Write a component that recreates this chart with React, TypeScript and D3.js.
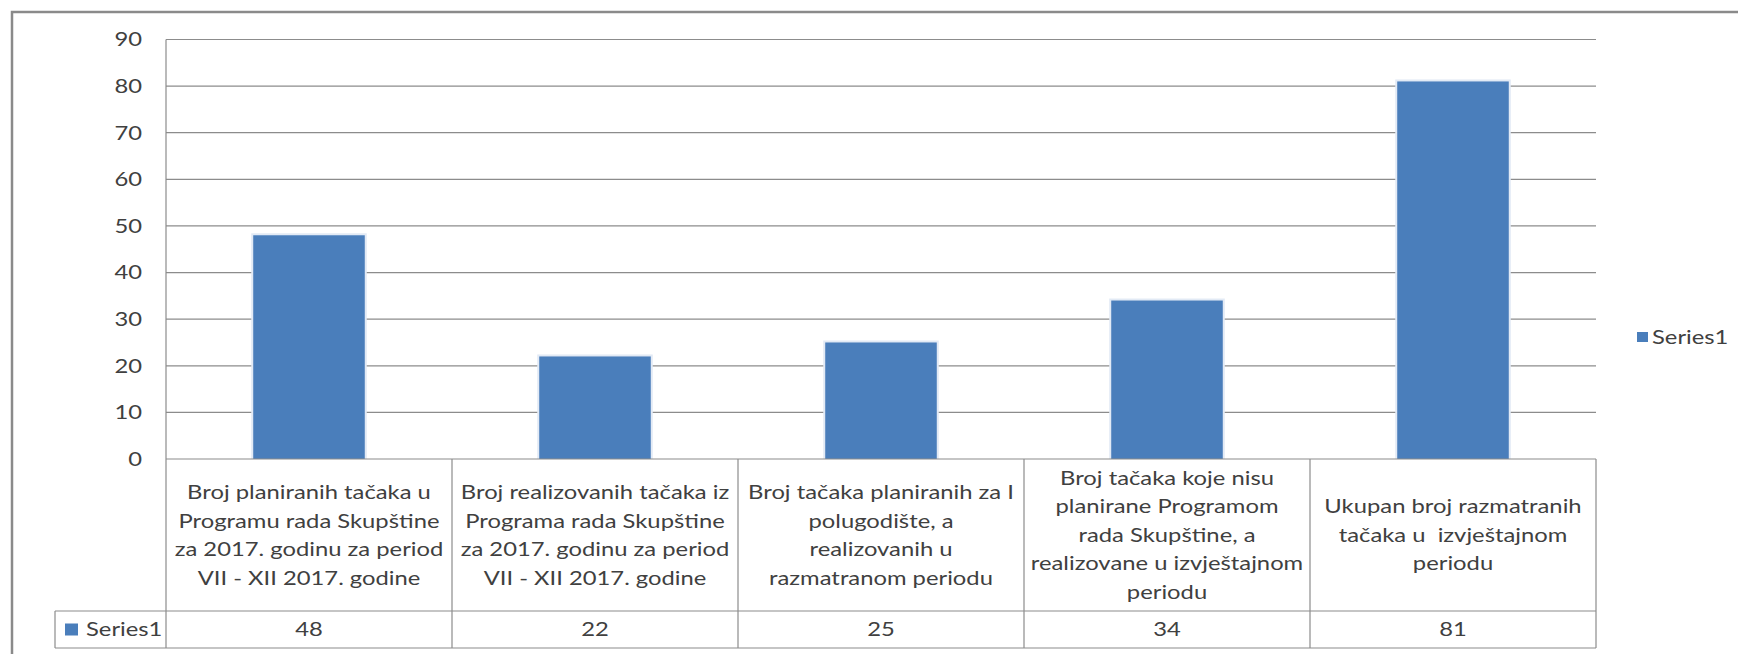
import React from "react";
import * as d3 from "d3";

const categories = [
  ["Broj planiranih tačaka u", "Programu rada Skupštine", "za 2017. godinu za period", "VII - XII 2017. godine"],
  ["Broj realizovanih tačaka iz", "Programa rada Skupštine", "za 2017. godinu za period", "VII - XII 2017. godine"],
  ["Broj tačaka planiranih za I", "polugodište, a", "realizovanih u", "razmatranom periodu"],
  ["Broj tačaka koje nisu", "planirane Programom", "rada Skupštine, a", "realizovane u izvještajnom", "periodu"],
  ["Ukupan broj razmatranih", "tačaka u  izvještajnom", "periodu"],
];
const values = [48, 22, 25, 34, 81];
const yTicks = [0, 10, 20, 30, 40, 50, 60, 70, 80, 90];
const seriesName = "Series1";

const W = 1738;
const H = 654;
const plot = { left: 166, right: 1596, top: 39.5, bottom: 459 };
const catRowBottom = 611;
const valRowBottom = 648;
const legendCellLeft = 55;

const barColor = "#4a7ebb";
const gridColor = "#8c8c8c";
const textColor = "#404040";
const font = "Lato, 'Open Sans', sans-serif";
const fs = 19.5;
const sx = 1.22; // the source text is wide, stretch a bit

// text with a horizontal stretch, lines stacked around y
const Label = ({ x, y, lines, anchor = "middle", lineH = 28.6 }: { x: number; y: number; lines: (string | number)[]; anchor?: string; lineH?: number }) => {
  const y0 = -((lines.length - 1) * lineH) / 2;
  return (
    <text transform={`translate(${x},${y}) scale(${sx},1)`} textAnchor={anchor} fontSize={fs} fill={textColor} style={{ whiteSpace: "pre" }}>
      {lines.map((l, j) => (
        <tspan key={j} x={0} y={y0 + j * lineH} dy="0.35em">{l}</tspan>
      ))}
    </text>
  );
};

const App = () => {
  const x = d3.scaleBand<number>().domain(d3.range(values.length)).range([plot.left, plot.right]).padding(0);
  const y = d3.scaleLinear().domain([0, 90]).range([plot.bottom, plot.top]);
  const barW = x.bandwidth() * 0.39;
  const catMid = (plot.bottom + catRowBottom) / 2;
  const valMid = (catRowBottom + valRowBottom) / 2;

  return (
    <svg width={W} height={H} style={{ position: "absolute", left: 0, top: 0, background: "#fff" }} fontFamily={font}>
      {/* outer chart frame */}
      <rect x={12} y={12} width={W + 20} height={H + 20} fill="#fff" stroke="#8a8a8a" strokeWidth={2.5} />

      {/* gridlines */}
      {yTicks.slice(1).map(t => (
        <line key={t} x1={plot.left} x2={plot.right} y1={y(t)} y2={y(t)} stroke={gridColor} strokeWidth={1.2} />
      ))}
      {yTicks.map(t => (
        <Label key={"l" + t} x={142} y={y(t)} lines={[t]} anchor="end" />
      ))}

      {/* bars */}
      {values.map((v, i) => {
        const bx = x(i)! + (x.bandwidth() - barW) / 2;
        return (
          <g key={i}>
            <rect x={bx - 2} y={y(v) - 2} width={barW + 4} height={y(0) - y(v) + 2} fill="#e2eaf5" />
            <rect x={bx} y={y(v)} width={barW} height={y(0) - y(v)} fill={barColor} />
          </g>
        );
      })}

      {/* data table */}
      <g stroke={gridColor} strokeWidth={1.2} fill="none">
        <line x1={plot.left} x2={plot.left} y1={plot.top} y2={valRowBottom} />
        <line x1={plot.left} x2={plot.right} y1={plot.bottom} y2={plot.bottom} />
        <line x1={legendCellLeft} x2={plot.right} y1={catRowBottom} y2={catRowBottom} />
        <line x1={legendCellLeft} x2={plot.right} y1={valRowBottom} y2={valRowBottom} />
        <line x1={legendCellLeft} x2={legendCellLeft} y1={catRowBottom} y2={valRowBottom} />
        {values.map((_, i) => (
          <line key={i} x1={x(i)! + x.bandwidth()} x2={x(i)! + x.bandwidth()} y1={plot.bottom} y2={valRowBottom} />
        ))}
      </g>

      {categories.map((lines, i) => (
        <Label key={i} x={x(i)! + x.bandwidth() / 2} y={catMid} lines={lines} />
      ))}

      {values.map((v, i) => (
        <Label key={i} x={x(i)! + x.bandwidth() / 2} y={valMid} lines={[v]} />
      ))}

      <rect x={65} y={valMid - 6} width={13} height={12} fill={barColor} />
      <Label x={86} y={valMid} lines={[seriesName]} anchor="start" />

      {/* legend */}
      <rect x={1637} y={332} width={11} height={10} fill={barColor} />
      <Label x={1652} y={337} lines={[seriesName]} anchor="start" />
    </svg>
  );
};

export default App;
